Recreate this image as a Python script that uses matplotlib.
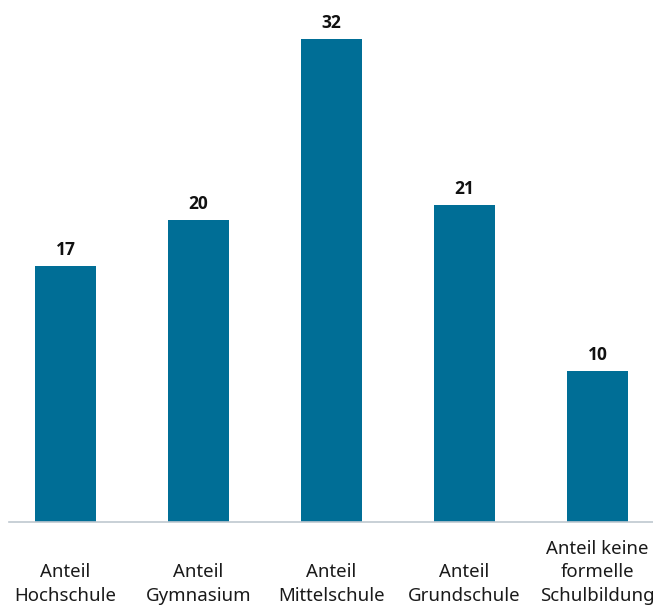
import matplotlib
matplotlib.use("Agg")
import matplotlib.pyplot as plt
import matplotlib.transforms as mtransforms

labels = ["Anteil\nHochschule", "Anteil\nGymnasium", "Anteil\nMittelschule",
          "Anteil\nGrundschule", "Anteil keine\nformelle\nSchulbildung"]
values = [17, 20, 32, 21, 10]

plt.rcParams['font.family'] = ['Noto Sans', 'DejaVu Sans']

fig = plt.figure(figsize=(6.53, 6.06), dpi=100)
ax = fig.add_axes([9 / 653, 84 / 606, 645 / 653, 513 / 606])

x = list(range(len(values)))
ax.bar(x, values, width=0.46, color="#006E96")
for xi, v in zip(x, values):
    ax.annotate(str(v), (xi, v), xytext=(0, 5), textcoords="offset points",
                ha="center", va="bottom", fontsize=12.5, fontweight="bold",
                family=["Open Sans", "DejaVu Sans"], color="#111111")

ax.set_xlim(-0.425, 4.425)
ax.set_ylim(0, 34)
ax.set_yticks([])
ax.set_xticks([])
for s in ["top", "right", "left"]:
    ax.spines[s].set_visible(False)
ax.spines["bottom"].set_color("#BFC8D0")
ax.spines["bottom"].set_linewidth(1.2)

trans = mtransforms.blended_transform_factory(ax.transData, fig.transFigure)
for xi, lab in zip(x, labels):
    ax.text(xi, 0.002, lab, transform=trans, ha="center", va="bottom",
            fontsize=13.4, color="#1a1a1a", linespacing=1.4, clip_on=False)

fig.savefig("out.png", dpi=100)
